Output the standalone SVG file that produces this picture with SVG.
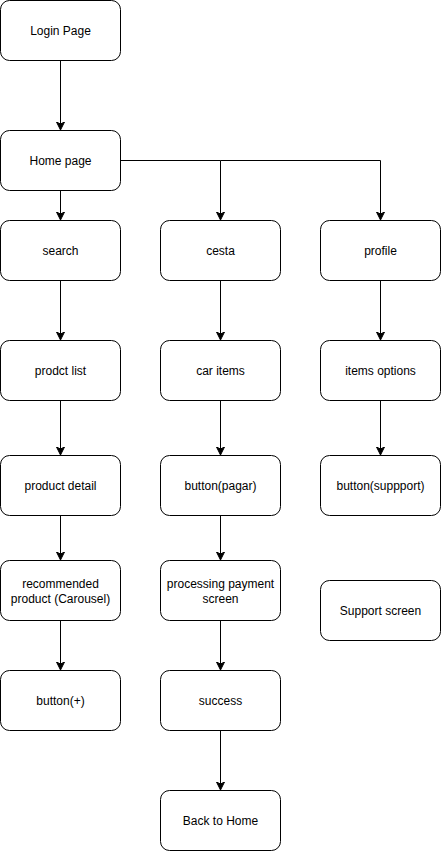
<svg xmlns="http://www.w3.org/2000/svg" width="442" height="852" viewBox="0 0 442 852">
<style>
.n rect{fill:#fff;stroke:#000;stroke-width:1}
.n text{font-family:"Liberation Sans",Arial,Helvetica,sans-serif;font-size:12px;fill:#000;text-anchor:middle}
.e path{fill:none;stroke:#000;stroke-width:1}
</style>
<defs>
<marker id="arr" markerWidth="10" markerHeight="10" refX="7" refY="4" orient="auto" markerUnits="userSpaceOnUse" viewBox="0 0 10 8">
<path d="M0,0 L8,4 L0,8 L2,4 Z" fill="#000" stroke="#000" stroke-width="1"/>
</marker>
</defs>
<rect width="442" height="852" fill="#fff"/>
<g class="e" id="edges">
<path d="M60.5,60.5 V129" marker-end="url(#arr)"/>
<path d="M60.5,190.5 V219" marker-end="url(#arr)"/>
<path d="M120.5,160.5 H220.5 V219" marker-end="url(#arr)"/>
<path d="M220.5,160.5 H380.5 V219" marker-end="url(#arr)"/>
<path d="M60.5,280.5 V339" marker-end="url(#arr)"/>
<path d="M60.5,400.5 V454" marker-end="url(#arr)"/>
<path d="M60.5,515.5 V559" marker-end="url(#arr)"/>
<path d="M60.5,620.5 V669" marker-end="url(#arr)"/>
<path d="M220.5,280.5 V339" marker-end="url(#arr)"/>
<path d="M220.5,400.5 V454" marker-end="url(#arr)"/>
<path d="M220.5,515.5 V559" marker-end="url(#arr)"/>
<path d="M220.5,620.5 V669" marker-end="url(#arr)"/>
<path d="M220.5,730.5 V789" marker-end="url(#arr)"/>
<path d="M380.5,280.5 V339" marker-end="url(#arr)"/>
<path d="M380.5,400.5 V454" marker-end="url(#arr)"/>
</g>
<g class="n" id="login"><rect x="0.5" y="0.5" width="120" height="60" rx="9"/><text x="60.5" y="35">Login Page</text></g>
<g class="n" id="home"><rect x="0.5" y="130.5" width="120" height="60" rx="9"/><text x="60.5" y="165">Home page</text></g>
<g class="n" id="search"><rect x="0.5" y="220.5" width="120" height="60" rx="9"/><text x="60.5" y="255">search</text></g>
<g class="n" id="cesta"><rect x="160.5" y="220.5" width="120" height="60" rx="9"/><text x="220.5" y="255">cesta</text></g>
<g class="n" id="profile"><rect x="320.5" y="220.5" width="120" height="60" rx="9"/><text x="380.5" y="255">profile</text></g>
<g class="n" id="prodlist"><rect x="0.5" y="340.5" width="120" height="60" rx="9"/><text x="60.5" y="375">prodct list</text></g>
<g class="n" id="caritems"><rect x="160.5" y="340.5" width="120" height="60" rx="9"/><text x="220.5" y="375">car items</text></g>
<g class="n" id="itemsopt"><rect x="320.5" y="340.5" width="120" height="60" rx="9"/><text x="380.5" y="375">items options</text></g>
<g class="n" id="proddetail"><rect x="0.5" y="455.5" width="120" height="60" rx="9"/><text x="60.5" y="490">product detail</text></g>
<g class="n" id="pagar"><rect x="160.5" y="455.5" width="120" height="60" rx="9"/><text x="220.5" y="490">button(pagar)</text></g>
<g class="n" id="support"><rect x="320.5" y="455.5" width="120" height="60" rx="9"/><text x="380.5" y="490">button(suppport)</text></g>
<g class="n" id="recommended"><rect x="0.5" y="560.5" width="120" height="60" rx="9"/><text x="60.5" y="588">recommended</text><text x="60.5" y="603">product (Carousel)</text></g>
<g class="n" id="processing"><rect x="160.5" y="560.5" width="120" height="60" rx="9"/><text x="220.5" y="588">processing payment</text><text x="220.5" y="603">screen</text></g>
<g class="n" id="supportscreen"><rect x="320.5" y="580.5" width="120" height="60" rx="9"/><text x="380.5" y="615">Support screen</text></g>
<g class="n" id="plus"><rect x="0.5" y="670.5" width="120" height="60" rx="9"/><text x="60.5" y="705">button(+)</text></g>
<g class="n" id="success"><rect x="160.5" y="670.5" width="120" height="60" rx="9"/><text x="220.5" y="705">success</text></g>
<g class="n" id="backhome"><rect x="160.5" y="790.5" width="120" height="60" rx="9"/><text x="220.5" y="825">Back to Home</text></g>
</svg>
